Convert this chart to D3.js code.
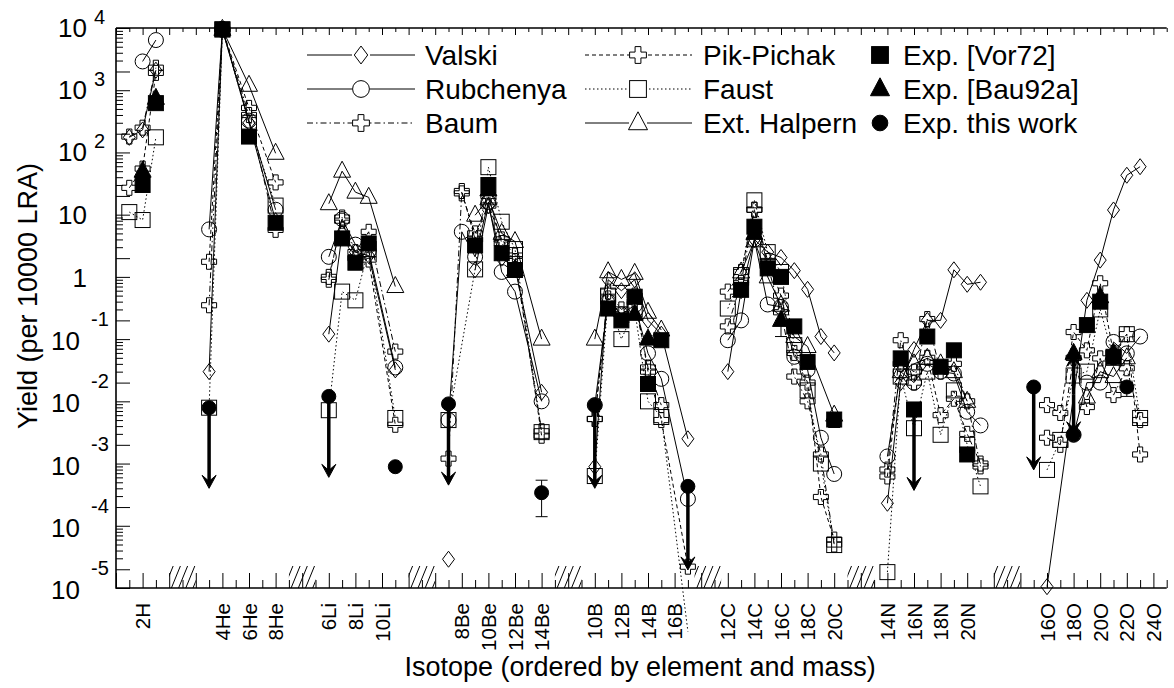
<!DOCTYPE html>
<html><head><meta charset="utf-8">
<script src="https://cdn.jsdelivr.net/npm/d3@7"></script>
<style>
body{margin:0;background:#fff}
text{font-family:"Liberation Sans",Arial,Helvetica,sans-serif;fill:#000}
</style>
</head><body>
<svg id="chart" width="1174" height="688"></svg>
<script>
// ---------- categories (x slots, "" = empty slot between elements) ----------
const slots = ["",
  "1H","2H","3H","","","",
  "3He","4He","5He","6He","7He","8He","","","",
  "6Li","7Li","8Li","9Li","10Li","11Li","","","",
  "7Be","8Be","9Be","10Be","11Be","12Be","13Be","14Be","","","",
  "10B","11B","12B","13B","14B","15B","16B","17B","","",
  "12C","13C","14C","15C","16C","17C","18C","19C","20C","","","",
  "14N","15N","16N","17N","18N","19N","20N","21N","","","",
  "15O","16O","17O","18O","19O","20O","21O","22O","23O","24O",""];
const isotopeLabels = ["2H","4He","6He","8He","6Li","8Li","10Li","8Be","10Be","12Be","14Be",
  "10B","12B","14B","16B","12C","14C","16C","18C","20C","14N","16N","18N","20N",
  "16O","18O","20O","22O","24O"];
const yExponents = [4,3,2,1,0,-1,-2,-3,-4,-5];

// ---------- series values (null = no value, line broken) ----------
const valski = [["1H",175],["2H",230],["3H",2100],
 ["3He",0.03],["4He",9500],["6He",300],["8He",8],
 ["6Li",0.12],["7Li",5],["8Li",2.5],["9Li",2.2],["11Li",0.032],
 ["7Be",2.9e-5],["8Be",null],["9Be",1.3],["10Be",14],["11Be",2.0],["12Be",1.4],["14Be",0.014],
 ["10B",8.9e-4],["11B",0.9],["12B",0.6],["13B",0.9],["14B",0.2],["15B",0.12],["17B",0.0025],
 ["12C",0.03],["13C",0.6],["14C",4],["15C",2.5],["16C",2.05],["17C",1.26],["18C",0.63],["19C",0.11],["20C",0.06],
 ["14N",2.3e-4],["15N",0.02],["16N",0.068],["17N",0.2],["18N",0.2],["19N",1.3],["20N",0.76],["21N",0.82],
 ["16O",1.05e-5],["19O",0.42],["20O",1.86],["21O",11.9],["22O",43],["23O",59]];
const rubchenya = [["2H",2900],["3H",6400],
 ["3He",5.8],["4He",9500],["6He",325],["8He",12],
 ["6Li",2.1],["7Li",8.5],["8Li",3.3],["9Li",2.6],["11Li",0.035],
 ["7Be",0.005],["8Be",5.3],["9Be",2.1],["10Be",16],["11Be",1.2],["12Be",0.58],["14Be",0.01],
 ["10B",0.0087],["11B",0.4],["12B",0.25],["13B",0.35],["14B",0.059],["15B",0.023],["17B",2.7e-4],
 ["12C",0.096],["13C",0.2],["14C",4],["15C",0.36],["16C",0.33],["17C",0.052],["18C",0.032],["19C",0.0026],["20C",6.8e-4],
 ["14N",0.0013],["15N",0.03],["16N",0.02],["17N",0.04],["18N",0.03],["19N",0.028],["20N",0.0068],["21N",0.0041],
 ["18O",0.0029],["19O",0.02],["20O",0.02],["21O",0.09],["22O",0.059],["23O",0.11]];
const baum = [["1H",180],["2H",250],["3H",2300],
 ["3He",0.35],["4He",9500],["6He",400],["8He",5.7],
 ["6Li",0.9],["7Li",9],["8Li",2.5],["9Li",5.3],["11Li",0.063],
 ["7Be",0.0012],["8Be",24],["9Be",4],["10Be",20],["11Be",3.5],["12Be",1.8],["14Be",0.0033],
 ["10B",0.0052],["11B",0.58],["12B",0.3],["13B",0.4],["14B",0.035],["15B",0.0087],
 ["12C",0.16],["13C",0.8],["14C",12],["15C",1.5],["16C",0.27],["17C",0.025],["18C",0.01],["19C",0.0014],["20C",5e-5],
 ["14N",8e-4],["15N",0.096],["16N",0.02],["17N",0.21],["18N",0.03],["19N",0.04],["20N",0.01],["21N",9e-4],
 ["16O",0.0026],["17O",0.002],["18O",0.05],["19O",0.0081],["20O",0.049],["21O",0.0126],["22O",0.034],["23O",0.005]];
const pikPichak = [["1H",27],["2H",55],["3H",1900],
 ["3He",1.75],["4He",9500],["6He",520],["8He",33],
 ["6Li",1.0],["7Li",8],["8Li",2.0],["9Li",1.9],["11Li",0.0042],
 ["8Be",22],["9Be",5],["10Be",14],["11Be",4],["12Be",2.2],["14Be",0.0028],
 ["10B",0.0052],["11B",0.45],["12B",0.25],["13B",0.5],["14B",0.03],["15B",0.005],["17B",2.2e-5],
 ["12C",0.58],["13C",1.2],["14C",12],["15C",1.8],["16C",0.5],["17C",0.06],["18C",0.02],["19C",2.9e-4],["20C",6e-5],
 ["14N",6.2e-4],["15N",0.04],["16N",0.03],["17N",0.05],["18N",0.006],["19N",0.011],["20N",0.003],["21N",0.001],
 ["16O",0.0087],["17O",0.0065],["18O",0.13],["19O",0.066],["20O",0.79],["21O",0.06],["22O",0.12],["23O",0.0014]];
const faust = [["1H",11],["2H",8.2],["3H",175],
 ["3He",0.0079],["4He",9500],["6He",300],["8He",14],
 ["6Li",0.0072],["7Li",0.58],["8Li",0.42],["9Li",2.8],["11Li",0.0054],
 ["7Be",0.005],["9Be",1.32],["10Be",58],["11Be",7.7],["12Be",2.8],["14Be",0.0032],
 ["10B",6.3e-4],["11B",0.5],["12B",0.1],["13B",0.3],["14B",0.01],["15B",0.0056],["17B",2e-6],
 ["12C",0.31],["13C",1.07],["14C",17],["15C",2.5],["16C",1.2],["17C",0.08],["18C",0.015],["19C",0.001],["20C",4.9e-5],
 ["14N",1.8e-5],["15N",0.025],["16N",0.0037],["17N",0.03],["18N",0.0029],["19N",0.015],["20N",0.002],["21N",4.3e-4],
 ["16O",7.9e-4],["17O",0.0024],["18O",0.026],["19O",0.03],["20O",0.3],["21O",0.05],["22O",0.12],["23O",0.0054]];
const extHalpern = [["4He",9500],["6He",1200],["8He",97],
 ["6Li",15],["7Li",50],["8Li",23],["9Li",19],["11Li",0.7],
 ["9Be",9.8],["10Be",18],["11Be",5],["12Be",3.7],["14Be",0.1],
 ["10B",0.1],["11B",1.21],["12B",0.91],["13B",1.14],["14B",0.27],["15B",0.14],
 ["13C",1.2],["14C",3.8],["15C",1.0],["16C",0.35],["17C",0.11],["18C",0.076],["20C",0.006],
 ["15N",0.03],["16N",0.04],["17N",0.049],["18N",0.04],["19N",0.03],["20N",0.01],
 ["19O",0.0117],["20O",0.03],["21O",0.025],["22O",0.05]];
const expVor72 = [["2H",30],["3H",620],["4He",9500],["6He",180],["8He",7.4],
 ["7Li",4.15],["8Li",1.69],["9Li",3.45],["9Be",3.2],["10Be",30],["11Be",2.4],["12Be",1.29],
 ["11B",0.31],["12B",0.2],["13B",0.48],["14B",0.019],["15B",0.096],
 ["13C",0.62],["14C",6.4],["15C",1.37],["16C",1.0],["17C",0.16],["18C",0.043],["20C",0.0051],
 ["15N",0.049],["16N",0.0074],["17N",0.11],["18N",0.036],["19N",0.066],["20N",0.0014],
 ["19O",0.168],["20O",0.4],["21O",0.052]];
const expBau92a = [["2H",50],["3H",740],["10Be",25],["12Be",1.3],["13B",0.25],["14B",0.1],
 ["14C",5],["16C",0.2],["18O",0.059],["20O",0.48],["21O",0.059]];
const expThisWork = [["3He",0.0079],["6Li",0.012],["11Li",0.00089],["7Be",0.0091],["14Be",3.4e-4],
 ["10B",0.0087],["17B",4.3e-4],["15O",0.017],["18O",0.0029],["20O",0.4],["21O",0.05],["22O",0.017]];
// upper-limit arrows: [isotope, from, to]
const limitArrows = [["3He",0.0079,4.0e-4],["6Li",0.012,6e-4],["7Be",0.0091,4.5e-4],["10B",0.0087,4e-4],
 ["17B",4.3e-4,1.95e-5],["16N",0.0074,3.7e-4],["15O",0.017,7.9e-4],["18O",0.013,0.059],["18O",0.013,0.0029]];
// error bars: [isotope, low, high]
const errorBars = [["11Li",7.7e-4,1.0e-3],["14Be",1.4e-4,5.4e-4],["16C",0.11,0.2],["20C",0.0038,0.0051],["22O",0.012,0.02]];

const seriesNames = ["Valski","Rubchenya","Baum","Pik-Pichak","Faust","Ext. Halpern","Exp. [Vor72]","Exp. [Bau92a]","Exp. this work"];
const seriesData = [valski,rubchenya,baum,pikPichak,faust,extHalpern,expVor72,expBau92a,expThisWork];

// ---------- styles ----------
const markerTypes = ["diamond","circle","cross","cross","square","triangle","fsquare","ftriangle","fcircle"];
const dashTypes = [null,null,"6,3,1.5,3","4,3","1.5,2.5",null,"none","none","none"];

// ---------- drawing ----------
const svg = d3.select("#chart");
const L=116, R=1166.7, T=28, B=588;
const x = d3.scaleLinear().domain([0, slots.length-1]).range([L, R]);
const y = d3.scaleLog().domain([1e-5,1e4]).range([B, T]);
const xi = iso => x(slots.indexOf(iso));
const elem = iso => iso.replace(/^\d+/, "");

// hatches between elements
const hatchCenters = [];
for (let i=1;i<slots.length-1;i++){
  if (slots[i]==="" && slots[i-1]!==""){
    let j=i; while(slots[j]==="") j++;
    hatchCenters.push((i-1+j)/2);
  }
}
const defs = svg.append("defs");
hatchCenters.forEach((c,k)=>{
  const x0=x(c-1), x1=x(c+1);
  defs.append("clipPath").attr("id","hc"+k).append("rect").attr("x",x0).attr("y",B-22).attr("width",x1-x0).attr("height",22);
  const g=svg.append("g").attr("clip-path",`url(#hc${k})`);
  for(let m=0;m<5;m++){
    const xb=x0-5+m*7.2;
    g.append("line").attr("x1",xb).attr("y1",B).attr("x2",xb+9).attr("y2",B-22).attr("stroke","#000").attr("stroke-width",1);
  }
});

// x ticks
const idxAll = d3.range(0, slots.length);
function xTicks(gen, idx, size, yPos){
  svg.append("g").attr("transform",`translate(0,${yPos})`)
    .call(gen(x).tickValues(idx).tickSize(size).tickFormat(""))
    .call(g=>{g.select(".domain").remove(); g.selectAll("line").attr("stroke","#000").attr("stroke-width",1);});
}
xTicks(d3.axisBottom, idxAll.filter(i=>i%2===0), -15, B);
xTicks(d3.axisBottom, idxAll.filter(i=>i%2===1), -8, B);
xTicks(d3.axisTop, idxAll.filter(i=>i%2===0), -7, T);
xTicks(d3.axisTop, idxAll.filter(i=>i%2===1), -4, T);

// y ticks
const majorV=[], minorV=[];
for(let e=-5;e<4;e++) for(let m=1;m<10;m++){ (m<=2?majorV:minorV).push(m*Math.pow(10,e)); }
majorV.push(1e4);
function yTicks(vals,size){
  svg.append("g").attr("transform",`translate(${L},0)`)
    .call(d3.axisLeft(y).tickValues(vals).tickSize(-size).tickFormat(""))
    .call(g=>{g.select(".domain").remove(); g.selectAll("line").attr("stroke","#000").attr("stroke-width",1);});
}
yTicks(majorV,14); yTicks(minorV,7);

// frame
svg.append("path").attr("d",`M${L},${T}H${R}M${L},${T}V${B}H${R}`).attr("fill","none").attr("stroke","#000").attr("stroke-width",1.6);

// y labels
yExponents.forEach(e=>{
  const ty=y(Math.pow(10,e));
  if(e===0){ svg.append("text").attr("x",87).attr("y",ty+10).attr("text-anchor","end").attr("font-size",26).text("1"); }
  else if(e===1){ svg.append("text").attr("x",87).attr("y",ty+9).attr("text-anchor","end").attr("font-size",26).text("10"); }
  else if(e>1){
    svg.append("text").attr("x",87).attr("y",ty+9).attr("text-anchor","end").attr("font-size",26).text("10");
    svg.append("text").attr("x",94).attr("y",ty-4).attr("font-size",20).text(String(e));
  } else {
    svg.append("text").attr("x",80).attr("y",ty+11).attr("text-anchor","end").attr("font-size",26).text("10");
    svg.append("text").attr("x",91).attr("y",ty-13).attr("font-size",20).text(String(e));
  }
});

// x labels
isotopeLabels.forEach(lab=>{
  svg.append("text").attr("transform",`translate(${xi(lab)+7.5},${603}) rotate(-90)`)
    .attr("text-anchor","end").attr("font-size",20.5).text(lab);
});
svg.append("text").attr("x",640).attr("y",676).attr("text-anchor","middle").attr("font-size",27).text("Isotope (ordered by element and mass)");
svg.append("text").attr("transform","translate(37,296) rotate(-90)").attr("text-anchor","middle").attr("font-size",27).text("Yield (per 10000 LRA)");

// markers
function marker(g,type,cx,cy,s=1){
  let el;
  if(type==="diamond") el=g.append("path").attr("d",`M${cx},${cy-8*s}L${cx+6*s},${cy}L${cx},${cy+8*s}L${cx-6*s},${cy}Z`);
  else if(type==="circle") el=g.append("circle").attr("cx",cx).attr("cy",cy).attr("r",7.5*s);
  else if(type==="cross"){ const a=7.5*s,b=2.6*s;
    el=g.append("path").attr("d",`M${cx-b},${cy-a}H${cx+b}V${cy-b}H${cx+a}V${cy+b}H${cx+b}V${cy+a}H${cx-b}V${cy+b}H${cx-a}V${cy-b}H${cx-b}Z`);}
  else if(type==="square"||type==="fsquare") el=g.append("rect").attr("x",cx-7.5*s).attr("y",cy-7.5*s).attr("width",15*s).attr("height",15*s);
  else if(type==="triangle"||type==="ftriangle") el=g.append("path").attr("d",`M${cx},${cy-10*s}L${cx+8.5*s},${cy+6*s}L${cx-8.5*s},${cy+6*s}Z`);
  else if(type==="fcircle") el=g.append("circle").attr("cx",cx).attr("cy",cy).attr("r",7*s);
  el.attr("stroke","#000").attr("stroke-width",1).attr("fill", type[0]==="f" ? "#000" : "none");
}

const line = d3.line().defined(d=>d[1]!==null).x(d=>xi(d[0])).y(d=>y(d[1]));
const plot = svg.append("g");
seriesData.forEach((data,si)=>{
  if(dashTypes[si]!=="none"){
    d3.groups(data, d=>elem(d[0])).forEach(([el,pts])=>{
      plot.append("path").attr("d",line(pts)).attr("fill","none").attr("stroke","#000").attr("stroke-width",1)
        .attr("stroke-dasharray",dashTypes[si]);
    });
  }
});
// error bars
errorBars.forEach(([iso,lo,hi])=>{
  const cx=xi(iso);
  plot.append("path").attr("d",`M${cx},${y(lo)}V${y(hi)}M${cx-6},${y(lo)}H${cx+6}M${cx-6},${y(hi)}H${cx+6}`).attr("stroke","#000").attr("stroke-width",1).attr("fill","none");
});
seriesData.forEach((data,si)=>{
  data.forEach(d=>{ if(d[1]!==null && d[1]>=1e-5*0.99 && d[1]<=1e4) marker(plot,markerTypes[si],xi(d[0]),y(d[1])); });
});
// arrows
limitArrows.forEach(([iso,from,to])=>{
  const cx=xi(iso), y0=y(from), y1=y(to), dir=y1>y0?1:-1;
  plot.append("line").attr("x1",cx).attr("x2",cx).attr("y1",y0).attr("y2",y1-dir*6).attr("stroke","#000").attr("stroke-width",3.5);
  plot.append("path").attr("d",`M${cx-7},${y1-dir*13}L${cx},${y1}L${cx+7},${y1-dir*13}L${cx},${y1-dir*7}Z`).attr("fill","#000").attr("stroke","#000").attr("stroke-width",1);
});

// legend
const legCols=[{lx0:307,lx1:415,mx:361,tx:425},{lx0:585,lx1:692,mx:638,tx:703},{lx0:null,lx1:null,mx:880,tx:903}];
const legRows=[55,89,123];
seriesNames.forEach((name,si)=>{
  const c=legCols[Math.floor(si/3)], ry=legRows[si%3];
  if(c.lx0!==null){
    svg.append("line").attr("x1",c.lx0).attr("x2",c.lx1).attr("y1",ry).attr("y2",ry).attr("stroke","#000").attr("stroke-width",1).attr("stroke-dasharray",dashTypes[si]);
    svg.append("rect").attr("x",c.mx-9).attr("y",ry-10).attr("width",18).attr("height",20).attr("fill","#fff");
  }
  marker(svg,markerTypes[si],c.mx,ry,1.12);
  svg.append("text").attr("x",c.tx).attr("y",ry+10).attr("font-size",28).text(name);
});
</script>
</body></html>
